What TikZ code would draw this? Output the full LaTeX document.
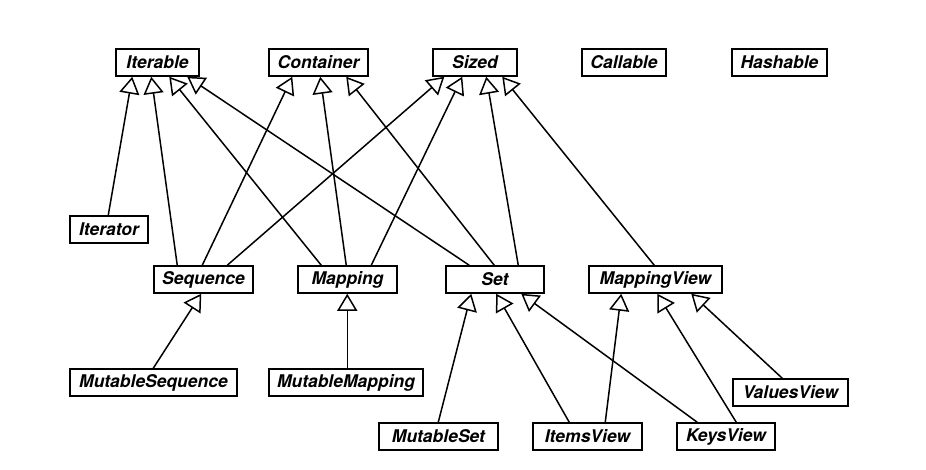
\documentclass[tikz,border=0pt]{standalone}
\usepackage{fontspec}
\setmainfont{TeX Gyre Heros}
\usetikzlibrary{arrows.meta}
\begin{document}
\begin{tikzpicture}[x=1pt,y=-1pt,
  cls/.style={draw, line width=1.5pt, fill=white, minimum height=27pt,
    inner sep=0pt, font=\fontsize{17.5}{20}\selectfont\bfseries\itshape},
  gen/.style={line width=1.5pt,
    -{Triangle[open, length=17pt, width=20pt, fill=white]}}]
\useasboundingbox (0,0) rectangle (926,469);

% abstract base classes, top row
\node[cls, minimum width=83pt]  (Iterable)  at (157.5,62.5) {Iterable};
\node[cls, minimum width=99pt]  (Container) at (318.5,62.5) {Container};
\node[cls, minimum width=84pt]  (Sized)     at (475,62.5)   {Sized};
\node[cls, minimum width=84pt]  (Callable)  at (624,62.5)   {Callable};
\node[cls, minimum width=95pt]  (Hashable)  at (779.5,62.5) {Hashable};

% middle row
\node[cls, minimum width=78pt]  (Iterator)    at (109,229.5)   {Iterator};
\node[cls, minimum width=99pt]  (Sequence)    at (203.5,279.5) {Sequence};
\node[cls, minimum width=99pt]  (Mapping)     at (347.5,279.5) {Mapping};
\node[cls, minimum width=98pt]  (Set)         at (495,279.5)   {Set};
\node[cls, minimum width=133pt] (MappingView) at (655.5,279.5) {MappingView};

% bottom rows
\node[cls, minimum width=167pt] (MutableSequence) at (153.5,382.5) {MutableSequence};
\node[cls, minimum width=154pt] (MutableMapping)  at (346,382.5)   {MutableMapping};
\node[cls, minimum width=115pt] (ValuesView)      at (790.5,392.5) {ValuesView};
\node[cls, minimum width=119pt] (MutableSet)      at (438.5,436.5) {MutableSet};
\node[cls, minimum width=109pt] (ItemsView)       at (587.5,436.5) {ItemsView};
\node[cls, minimum width=98pt]  (KeysView)        at (726,436.5)   {KeysView};

% generalisations into Iterable
\draw[gen] ([xshift=39pt]Iterator.north west) -- ([xshift=17pt]Iterable.south west);
\draw[gen] ([xshift=24pt]Sequence.north west) -- ([xshift=36pt]Iterable.south west);
\draw[gen] ([xshift=24pt]Mapping.north west)  -- ([xshift=54pt]Iterable.south west);
\draw[gen] ([xshift=24pt]Set.north west)      -- ([xshift=72pt]Iterable.south west);

% generalisations into Container
\draw[gen] ([xshift=49pt]Sequence.north west) -- ([xshift=24pt]Container.south west);
\draw[gen] ([xshift=49pt]Mapping.north west)  -- ([xshift=52pt]Container.south west);
\draw[gen] ([xshift=49pt]Set.north west)      -- ([xshift=78pt]Container.south west);

% generalisations into Sized
\draw[gen] ([xshift=74pt]Sequence.north west)    -- ([xshift=12pt]Sized.south west);
\draw[gen] ([xshift=74pt]Mapping.north west)     -- ([xshift=30pt]Sized.south west);
\draw[gen] ([xshift=73pt]Set.north west)         -- ([xshift=54pt]Sized.south west);
\draw[gen] ([xshift=66pt]MappingView.north west) -- ([xshift=70pt]Sized.south west);

% mutable variants
\draw[gen] ([xshift=84pt]MutableSequence.north west) -- ([xshift=48pt]Sequence.south west);
\draw[gen] ([xshift=79pt]MutableMapping.north west)  -- ([xshift=50pt]Mapping.south west);
\draw[gen] ([xshift=60pt]MutableSet.north west)      -- ([xshift=26pt]Set.south west);

% views
\draw[gen] ([xshift=37pt]ItemsView.north west)  -- ([xshift=51pt]Set.south west);
\draw[gen] ([xshift=21pt]KeysView.north west)   -- ([xshift=76pt]Set.south west);
\draw[gen] ([xshift=73pt]ItemsView.north west)  -- ([xshift=33pt]MappingView.south west);
\draw[gen] ([xshift=60pt]KeysView.north west)   -- ([xshift=69pt]MappingView.south west);
\draw[gen] ([xshift=50pt]ValuesView.north west) -- ([xshift=103pt]MappingView.south west);
\end{tikzpicture}
\end{document}
